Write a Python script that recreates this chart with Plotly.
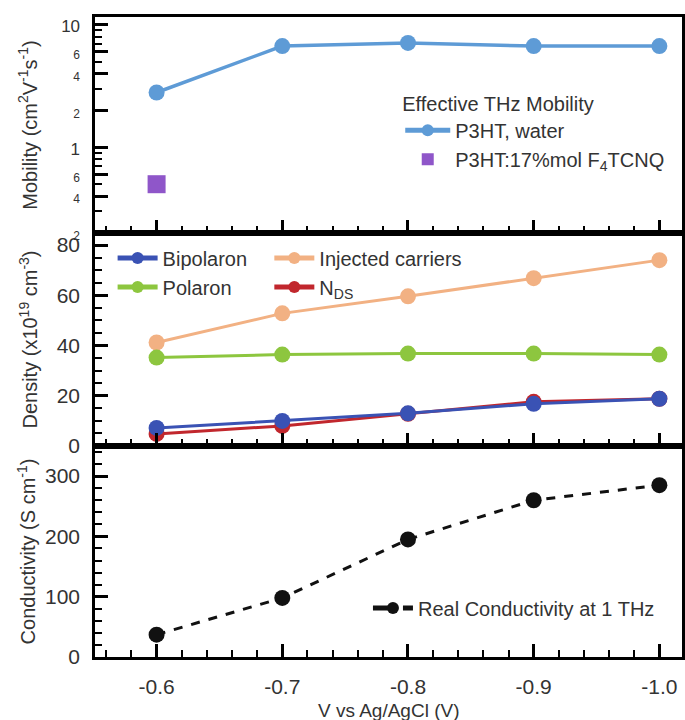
import plotly.graph_objects as go
from plotly.subplots import make_subplots

# ---------------- data ----------------
voltage = [-0.6, -0.7, -0.8, -0.9, -1.0]
mobility_water = [2.8, 6.7, 7.1, 6.7, 6.7]
f4tcnq_voltage = [-0.6]
mobility_f4tcnq = [0.5]
bipolaron = [7.2, 10.0, 13.0, 16.8, 18.8]
polaron = [35.2, 36.4, 36.8, 36.8, 36.4]
injected = [41.2, 52.8, 59.6, 66.8, 74.0]
nds = [4.8, 8.0, 12.8, 17.6, 18.8]
conductivity = [37, 98, 195, 260, 285]

x_tickvals = [-0.6, -0.7, -0.8, -0.9, -1.0]
x_ticktext = ["-0.6", "-0.7", "-0.8", "-0.9", "-1.0"]
x_title = "V vs Ag/AgCl (V)"
mob_tickvals = [0.2, 0.4, 0.6, 1, 2, 4, 6, 10]
mob_ticktext = ["2", "4", "6", "1", "2", "4", "6", "10"]
mob_small = [True, True, True, False, True, True, True, False]
mob_minorvals = [0.3, 0.5, 0.7, 0.8, 0.9, 3, 5, 7, 8, 9]

# ---------------- styles ----------------
FONT = "Liberation Sans, Arial, sans-serif"
TXT = "#333333"
C_WATER = "#5e9bd6"
C_F4 = "#8f56c9"
C_BIP = "#3a52b4"
C_POL = "#8dc63f"
C_INJ = "#f2b183"
C_NDS = "#c1272d"
C_COND = "#111111"

fig = make_subplots(rows=3, cols=1, shared_xaxes=True, vertical_spacing=0)

fig.add_trace(go.Scatter(x=voltage, y=mobility_water, mode="lines+markers",
                         name="P3HT, water", line=dict(color=C_WATER, width=3.5),
                         marker=dict(size=16, color=C_WATER), legend="legend"),
              row=1, col=1)
fig.add_trace(go.Scatter(x=f4tcnq_voltage, y=mobility_f4tcnq, mode="markers",
                         name="P3HT:17%mol F<sub>4</sub>TCNQ",
                         marker=dict(size=18, color=C_F4, symbol="square"),
                         legend="legend"),
              row=1, col=1)

fig.add_trace(go.Scatter(x=voltage, y=injected, mode="lines+markers",
                         name="Injected carriers", line=dict(color=C_INJ, width=3),
                         marker=dict(size=16, color=C_INJ), legend="legend3"),
              row=2, col=1)
fig.add_trace(go.Scatter(x=voltage, y=polaron, mode="lines+markers",
                         name="Polaron", line=dict(color=C_POL, width=3),
                         marker=dict(size=16, color=C_POL), legend="legend2"),
              row=2, col=1)
fig.add_trace(go.Scatter(x=voltage, y=nds, mode="lines+markers",
                         name="N<sub>DS</sub>", line=dict(color=C_NDS, width=3),
                         marker=dict(size=16, color=C_NDS), legend="legend3"),
              row=2, col=1)
fig.add_trace(go.Scatter(x=voltage, y=bipolaron, mode="lines+markers",
                         name="Bipolaron", line=dict(color=C_BIP, width=3),
                         marker=dict(size=16, color=C_BIP), legend="legend2"),
              row=2, col=1)

fig.add_trace(go.Scatter(x=voltage, y=conductivity, mode="lines+markers",
                         name="Real Conductivity at 1 THz",
                         line=dict(color=C_COND, width=3, dash="dash"),
                         marker=dict(size=16, color=C_COND), legend="legend4"),
              row=3, col=1)

axis_common = dict(showline=True, mirror=True, linecolor="black", linewidth=2.5,
                   showgrid=False, zeroline=False, ticks="inside",
                   tickcolor="black", tickwidth=2.5, automargin=False,
                   tickfont=dict(family=FONT, size=21, color=TXT))
title_font = dict(family=FONT, size=20, color=TXT)

xr = [-0.551, -1.018]
for i in (1, 2, 3):
    fig.update_xaxes(range=xr, tickvals=x_tickvals, ticktext=x_ticktext,
                     ticklen=13,
                     minor=dict(ticks="inside", dtick=0.02, tick0=0, ticklen=7,
                                tickwidth=2, tickcolor="black"),
                     showticklabels=(i == 3), row=i, col=1, **axis_common)
fig.update_xaxes(ticklabelstandoff=9, row=3, col=1)

# x-axis title below the tick labels
fig.add_annotation(text=x_title, xref="paper", yref="paper", x=0.5, y=0,
                   xanchor="center", yanchor="middle", yshift=-53,
                   showarrow=False, font=dict(family=FONT, size=19, color=TXT))

mob_text = [f'<span style="font-size:12px">{t}</span>' if s
            else f'<span style="font-size:17px">{t}</span>'
            for t, s in zip(mob_ticktext, mob_small)]
fig.update_yaxes(type="log", range=[-0.699, 1.063], tickvals=mob_tickvals,
                 ticktext=mob_text, ticklen=13,
                 minor=dict(ticks="inside", tickvals=mob_minorvals, ticklen=7,
                            tickwidth=2, tickcolor="black"),
                 title=dict(text="Mobility (cm<sup>2</sup>V<sup>-1</sup>s<sup>-1</sup>)",
                            font=title_font, standoff=19),
                 ticklabelstandoff=8, row=1, col=1, **axis_common)
fig.update_yaxes(range=[0, 84.8], tickvals=[0, 20, 40, 60, 80], ticklen=13,
                 minor=dict(ticks="inside", dtick=5, tick0=0, ticklen=7,
                            tickwidth=2, tickcolor="black"),
                 title=dict(text="Density (x10<sup>19</sup> cm<sup>-3</sup>)",
                            font=title_font, standoff=14),
                 ticklabelstandoff=8, row=2, col=1, **axis_common)
fig.update_yaxes(range=[0, 350], tickvals=[0, 100, 200, 300], ticklen=13,
                 minor=dict(ticks="inside", dtick=20, tick0=0, ticklen=7,
                            tickwidth=2, tickcolor="black"),
                 title=dict(text="Conductivity (S cm<sup>-1</sup>)",
                            font=title_font, standoff=4),
                 ticklabelstandoff=8, row=3, col=1, **axis_common)

# panel domains (plot area y 17..657 px)
fig.update_layout(
    yaxis=dict(domain=[0.6625, 1.0]),
    yaxis2=dict(domain=[0.3297, 0.6625]),
    yaxis3=dict(domain=[0.0, 0.3297]),
)

leg_font = dict(family=FONT, size=20, color=TXT)
leg_common = dict(bgcolor="rgba(0,0,0,0)", font=leg_font, itemsizing="constant")
fig.update_layout(
    width=685, height=720,
    margin=dict(l=95, r=3, t=17, b=63),
    paper_bgcolor="white", plot_bgcolor="white",
    font=dict(family=FONT, color=TXT),
    showlegend=True,
    legend=dict(x=0.52, y=0.894, xanchor="left", yanchor="top", itemwidth=45,
                title=dict(text="Effective THz Mobility", font=leg_font),
                tracegroupgap=0, **leg_common),
    legend2=dict(x=0.03, y=0.654, xanchor="left", yanchor="top", itemwidth=40,
                 traceorder="reversed", **leg_common),
    legend3=dict(x=0.297, y=0.654, xanchor="left", yanchor="top", itemwidth=40,
                 **leg_common),
    legend4=dict(x=0.465, y=0.0766, xanchor="left", yanchor="middle", itemwidth=40,
                 **leg_common),
)

fig.write_html("out.html")
